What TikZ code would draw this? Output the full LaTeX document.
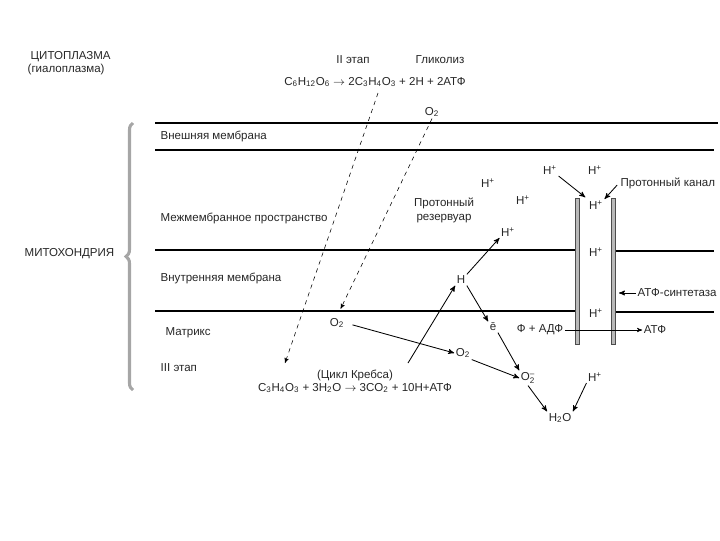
\documentclass[tikz,border=0pt]{standalone}
\usepackage{amsmath}
\usepackage{fontspec}
\setmainfont{Liberation Sans}
\usetikzlibrary{arrows}
\usetikzlibrary{decorations.pathreplacing}
\newcommand{\dn}[1]{\textsubscript{#1}}
\newcommand{\up}[1]{\textsuperscript{#1}}
\tikzset{
  lbl/.style={font=\fontsize{8.2}{10}\selectfont, inner sep=1pt, text=black!85},
  memline/.style={black, line width=1.1pt},
  wall/.style={fill=gray!55, draw=black!70, line width=0.3pt},
  arr/.style={black, semithick, ->, >=stealth'},
  dasharr/.style={black, thin, dashed, ->, >=stealth'}
}
\begin{document}
\begin{tikzpicture}[x=0.025cm, y=-0.025cm]
\useasboundingbox (0,0) rectangle (720,540);
% membranes
\draw[memline] (155,123)--(718,123);
\draw[memline] (155,150)--(714,150);
\draw[memline] (155,250)--(576,250);
\draw[memline] (614,251)--(714,251);
\draw[memline] (155,311)--(576,311);
\draw[memline] (614,312)--(714,312);
% ATP synthase channel
\draw[wall] (575,198) rectangle (579,344);
\draw[wall] (611,198) rectangle (615,344);
% bracket
\draw[gray!70, line width=2.2pt, decorate, decoration={brace, amplitude=5pt}] (133,390)--(133,123);

% left labels
\node[lbl, anchor=west] (cyto) at (29,57) {ЦИТОПЛАЗМА};
\node[lbl, anchor=west] (hialo) at (26,70) {(гиалоплазма)};
\node[lbl, anchor=west] (mito) at (23,254) {МИТОХОНДРИЯ};
\node[lbl, anchor=west] (outer) at (159,136) {Внешняя мембрана};
\node[lbl, anchor=west] (inter) at (159,218) {Межмембранное пространство};
\node[lbl, anchor=west] (inner) at (159,278) {Внутренняя мембрана};
\node[lbl, anchor=west] (matrix) at (164,333) {Матрикс};
\node[lbl, anchor=west] (stage3) at (159,368) {III этап};

% glycolysis
\node[lbl] (stage2) at (353,60) {II этап};
\node[lbl] (glyc) at (440,60) {Гликолиз};
\node[lbl] (eqglyc) at (375,82) {C\dn{6}H\dn{12}O\dn{6} $\to$ 2C\dn{3}H\dn{4}O\dn{3} + 2H + 2АТФ};
\node[lbl] (o2top) at (432,112) {O\dn{2}};
\coordinate (pyr) at (378,93);

% Krebs cycle
\node[lbl] (krebs) at (355,375) {(Цикл Кребса)};
\node[lbl] (eqkrebs) at (355,388) {C\dn{3}H\dn{4}O\dn{3} + 3H\dn{2}O $\to$ 3CO\dn{2} + 10H+АТФ};
\coordinate (pyrin) at (285,363);
\coordinate (hout) at (408,363);

% proton reservoir
\node[lbl, align=center] (reserv) at (444,210) {Протонный\\резервуар};
\node[lbl] (hpa) at (488,183) {H\up{+}};
\node[lbl] (hpb) at (523,200) {H\up{+}};
\node[lbl] (hpc) at (508,232) {H\up{+}};
\node[lbl] (hpd) at (550,170) {H\up{+}};
\node[lbl] (hpe) at (595,170) {H\up{+}};
\node[lbl] (hpf) at (596,205) {H\up{+}};
\node[lbl] (hpg) at (596,252) {H\up{+}};
\node[lbl] (hph) at (596,313) {H\up{+}};
\node[lbl, anchor=west] (kanal) at (619,183) {Протонный канал};
\node[lbl, anchor=west] (synt) at (636,293) {АТФ-синтетаза};
\coordinate (syntwall) at (619,293);

% matrix reactions
\node[lbl] (o2m) at (337,323) {O\dn{2}};
\node[lbl] (h) at (461,280) {H};
\node[lbl] (e) at (493,327) {ē};
\node[lbl] (adp) at (540,330) {Ф + АДФ};
\node[lbl] (atp) at (655,330) {АТФ};
\node[lbl] (o2b) at (463,353) {O\dn{2}};
\node[lbl] (o2minus) at (528,378) {O$^{\text{–}}_{\text{2}}$};
\node[lbl] (hpi) at (595,377) {H\up{+}};
\node[lbl] (h2o) at (560,418) {H\dn{2}O};

% arrows
\draw[dasharr] (pyr)--(pyrin);
\draw[dasharr, shorten >=6pt] (o2top.south)--(o2m.north);
\draw[arr, shorten <=5pt] (o2m.east)--(o2b.west);
\draw[arr] (hout)--(h.south west);
\draw[arr] (h.north east)--(hpc.south west);
\draw[arr] (h.south east)--(e.north west);
\draw[arr] (e.south east)--(o2minus.north west);
\draw[arr] (o2b.south east)--(o2minus.west);
\draw[arr] (o2minus.south)--(h2o.north west);
\draw[arr] (hpi.south west)--(h2o.north east);
\draw[arr, thin] (adp.east)--(atp.west);
\draw[arr, shorten >=2pt] (hpd.south east)--(hpf.north west);
\draw[arr, shorten <=2pt] (kanal.west)--(hpf.north east);
\draw[arr] (synt.west)--(syntwall);
\end{tikzpicture}
\end{document}
